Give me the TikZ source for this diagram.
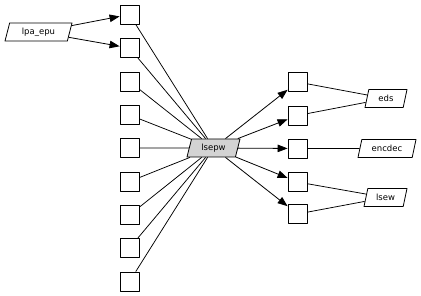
\documentclass[tikz,border=0pt]{standalone}
\usepackage{fontspec}
\setsansfont{DejaVu Sans}
\usetikzlibrary{shapes.geometric,arrows.meta}
\begin{document}
\begin{tikzpicture}[x=1pt, y=-1pt, font=\sffamily, line join=round]
  \definecolor{lightgrey}{HTML}{D3D3D3}
  \path[use as bounding box] (0,0) rectangle (421,296);
  \fill[white] (0,0) rectangle (421,296);
  \tikzset{
    cell/.style={draw, line width=0.8pt, minimum size=19pt, inner sep=0pt},
    module/.style={draw, line width=0.8pt, trapezium, trapezium left angle=66, trapezium right angle=114,
      trapezium stretches body, minimum height=18pt, inner sep=1pt,
      font=\sffamily\fontsize{8.5}{10}\selectfont},
    feed/.style={-{Triangle[length=10pt,width=7.5pt]}, line width=0.8pt},
    link/.style={line width=0.75pt}
  }
  % Source module on the far left, the hub module in the middle.
  \node[module, minimum width=67pt] (lpaepu) at (38.5,32) {lpa\_epu};
  \node[module, fill=lightgrey, minimum width=53pt] (lsepw) at (213.5,148) {lsepw};
  % Left column of cells.
  \node[cell] (l1) at (129.5,14.5) {};
  \node[cell] (l2) at (129.5,48) {};
  \node[cell] (l3) at (129.5,81.5) {};
  \node[cell] (l4) at (129.5,115) {};
  \node[cell] (l5) at (129.5,148) {};
  \node[cell] (l6) at (129.5,181.5) {};
  \node[cell] (l7) at (129.5,215) {};
  \node[cell] (l8) at (129.5,248) {};
  \node[cell] (l9) at (129.5,281.5) {};
  % Right column of cells and the modules they lead to.
  \node[cell] (r1) at (297.5,82) {};
  \node[cell] (r2) at (297.5,115.5) {};
  \node[cell] (r3) at (297.5,148.5) {};
  \node[cell] (r4) at (297.5,182) {};
  \node[cell] (r5) at (297.5,214) {};
  \node[module, minimum width=42pt] (eds) at (386,98.5) {eds};
  \node[module, minimum width=58pt] (encdec) at (387,148.5) {encdec};
  \node[module, minimum width=43pt] (lsew) at (385.5,197.5) {lsew};
  % Connectors.
  \draw[feed] (lpaepu) -- (l1);
  \draw[feed] (lpaepu) -- (l2);
  \draw[link] (l1) -- (lsepw);
  \draw[link] (l2) -- (lsepw);
  \draw[link] (l3) -- (lsepw);
  \draw[link] (l4) -- (lsepw);
  \draw[link] (l5) -- (lsepw);
  \draw[link] (l6) -- (lsepw);
  \draw[link] (l7) -- (lsepw);
  \draw[link] (l8) -- (lsepw);
  \draw[link] (l9) -- (lsepw);
  \draw[feed] (lsepw) -- (r1);
  \draw[feed] (lsepw) -- (r2);
  \draw[feed] (lsepw) -- (r3);
  \draw[feed] (lsepw) -- (r4);
  \draw[feed] (lsepw) -- (r5);
  \draw[link] (r1) -- (eds);
  \draw[link] (r2) -- (eds);
  \draw[link] (r3) -- (encdec);
  \draw[link] (r4) -- (lsew);
  \draw[link] (r5) -- (lsew);
\end{tikzpicture}
\end{document}
